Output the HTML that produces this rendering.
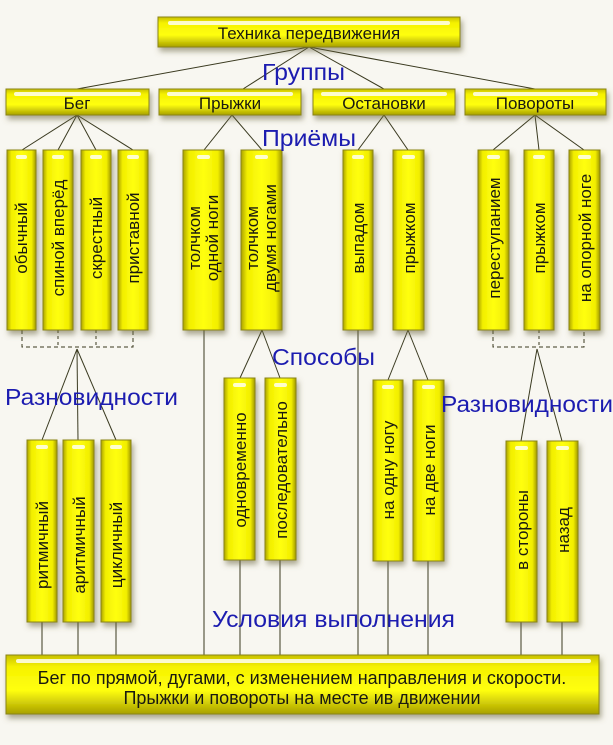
<!DOCTYPE html>
<html><head><meta charset="utf-8"><style>
html,body{margin:0;padding:0;background:#f8f7f1;}
svg{display:block;font-family:"Liberation Sans",sans-serif;}
</style></head><body>
<svg width="613" height="745" viewBox="0 0 613 745" xmlns="http://www.w3.org/2000/svg">
<defs>
<linearGradient id="gv" x1="0" y1="0" x2="1" y2="0">
<stop offset="0" stop-color="#aaa200"/><stop offset="0.15" stop-color="#f2ee00"/><stop offset="0.5" stop-color="#ffff10"/><stop offset="0.85" stop-color="#f2ee00"/><stop offset="1" stop-color="#a09800"/>
</linearGradient>
<linearGradient id="gh" x1="0" y1="0" x2="0" y2="1">
<stop offset="0" stop-color="#c8c000"/><stop offset="0.2" stop-color="#f6f200"/><stop offset="0.6" stop-color="#ffff10"/><stop offset="1" stop-color="#a8a000"/>
</linearGradient>
<filter id="sh" x="-30%" y="-30%" width="160%" height="160%"><feDropShadow dx="2" dy="4" stdDeviation="3" flood-color="#6a6440" flood-opacity="0.55"/></filter>
</defs>
<rect width="613" height="745" fill="#f8f7f1"/>
<g stroke="#3a3a20" stroke-width="1" fill="none">
<line x1="309" y1="47" x2="77" y2="89"/><line x1="309" y1="47" x2="243" y2="89"/><line x1="309" y1="47" x2="384" y2="89"/><line x1="309" y1="47" x2="535" y2="89"/>
<line x1="77" y1="115" x2="22" y2="150"/><line x1="77" y1="115" x2="58" y2="150"/><line x1="77" y1="115" x2="96" y2="150"/><line x1="77" y1="115" x2="133" y2="150"/>
<line x1="232" y1="115" x2="204" y2="150"/><line x1="232" y1="115" x2="262" y2="150"/>
<line x1="384" y1="115" x2="358" y2="150"/><line x1="384" y1="115" x2="408" y2="150"/>
<line x1="535" y1="115" x2="493" y2="150"/><line x1="535" y1="115" x2="539" y2="150"/><line x1="535" y1="115" x2="584" y2="150"/>
<polyline points="22,330 22,347 133,347 133,330" stroke-dasharray="4,3"/><line x1="58" y1="330" x2="58" y2="347" stroke-dasharray="3,3"/><line x1="96" y1="330" x2="96" y2="347" stroke-dasharray="3,3"/>
<line x1="77" y1="349" x2="42" y2="440"/><line x1="77" y1="349" x2="78" y2="440"/><line x1="77" y1="349" x2="116" y2="440"/>
<polyline points="493,330 493,347 584,347 584,330" stroke-dasharray="4,3"/><line x1="539" y1="330" x2="539" y2="347" stroke-dasharray="3,3"/>
<line x1="537" y1="349" x2="521" y2="441"/><line x1="537" y1="349" x2="562" y2="441"/>
<line x1="262" y1="330" x2="240" y2="378"/><line x1="262" y1="330" x2="280" y2="378"/>
<line x1="408" y1="330" x2="388" y2="380"/><line x1="408" y1="330" x2="428" y2="380"/>
<line x1="42" y1="622" x2="42" y2="655"/><line x1="78" y1="622" x2="78" y2="655"/><line x1="116" y1="622" x2="116" y2="655"/>
<line x1="204" y1="330" x2="204" y2="655"/><line x1="358" y1="330" x2="358" y2="655"/>
<line x1="240" y1="560" x2="240" y2="655"/><line x1="280" y1="560" x2="280" y2="655"/>
<line x1="388" y1="561" x2="388" y2="655"/><line x1="428" y1="561" x2="428" y2="655"/>
<line x1="521" y1="622" x2="521" y2="655"/><line x1="562" y1="622" x2="562" y2="655"/>
</g>
<g filter="url(#sh)" stroke="#8a8418" stroke-width="1">
<rect x="158" y="17" width="302" height="30" fill="url(#gh)"/>
<rect x="6" y="89" width="143" height="26" fill="url(#gh)"/>
<rect x="159" y="89" width="142" height="26" fill="url(#gh)"/>
<rect x="313" y="89" width="142" height="26" fill="url(#gh)"/>
<rect x="465" y="89" width="141" height="26" fill="url(#gh)"/>
<rect x="6" y="655" width="593" height="59" fill="url(#gh)"/>
<g fill="url(#gv)">
<rect x="7" y="150" width="29" height="180"/><rect x="43" y="150" width="30" height="180"/><rect x="81" y="150" width="30" height="180"/><rect x="118" y="150" width="30" height="180"/>
<rect x="183" y="150" width="41" height="180"/><rect x="241" y="150" width="41" height="180"/>
<rect x="343" y="150" width="30" height="180"/><rect x="393" y="150" width="31" height="180"/>
<rect x="478" y="150" width="31" height="180"/><rect x="524" y="150" width="30" height="180"/><rect x="569" y="150" width="31" height="180"/>
<rect x="27" y="440" width="30" height="182"/><rect x="63" y="440" width="31" height="182"/><rect x="101" y="440" width="30" height="182"/>
<rect x="224" y="378" width="31" height="182"/><rect x="265" y="378" width="31" height="182"/>
<rect x="373" y="380" width="30" height="181"/><rect x="413" y="380" width="31" height="181"/>
<rect x="506" y="441" width="31" height="181"/><rect x="547" y="441" width="31" height="181"/>
</g></g>
<g fill="#fffff0" opacity="0.85">
<rect x="168" y="21" width="282" height="4" rx="2"/>
<rect x="14" y="92" width="127" height="4" rx="2"/><rect x="167" y="92" width="126" height="4" rx="2"/><rect x="321" y="92" width="126" height="4" rx="2"/><rect x="473" y="92" width="125" height="4" rx="2"/>
<rect x="16" y="659" width="575" height="4" rx="2"/>
<rect x="16" y="155" width="11" height="4" rx="2"/><rect x="52" y="155" width="12" height="4" rx="2"/><rect x="90" y="155" width="12" height="4" rx="2"/><rect x="127" y="155" width="12" height="4" rx="2"/>
<rect x="197" y="155" width="13" height="4" rx="2"/><rect x="255" y="155" width="13" height="4" rx="2"/>
<rect x="352" y="155" width="12" height="4" rx="2"/><rect x="402" y="155" width="13" height="4" rx="2"/>
<rect x="487" y="155" width="13" height="4" rx="2"/><rect x="533" y="155" width="12" height="4" rx="2"/><rect x="578" y="155" width="13" height="4" rx="2"/>
<rect x="36" y="445" width="12" height="4" rx="2"/><rect x="72" y="445" width="13" height="4" rx="2"/><rect x="110" y="445" width="12" height="4" rx="2"/>
<rect x="233" y="383" width="13" height="4" rx="2"/><rect x="274" y="383" width="13" height="4" rx="2"/>
<rect x="382" y="385" width="12" height="4" rx="2"/><rect x="422" y="385" width="13" height="4" rx="2"/>
<rect x="515" y="446" width="13" height="4" rx="2"/><rect x="556" y="446" width="13" height="4" rx="2"/>
</g>
<g fill="#1a1a10" font-size="17" text-anchor="middle">
<text x="309" y="39">Техника передвижения</text>
<text x="77" y="109">Бег</text><text x="230" y="109">Прыжки</text><text x="384" y="109">Остановки</text><text x="535" y="109">Повороты</text>
</g>
<g fill="#1a1a10" font-size="18" text-anchor="middle">
<text x="302" y="684">Бег по прямой, дугами, с изменением направления и скорости.</text>
<text x="302" y="704">Прыжки и повороты на месте ив движении</text>
</g>
<g fill="#1a1a10" font-size="17" text-anchor="middle">
<text transform="translate(27,238) rotate(-90)">обычный</text>
<text transform="translate(64,238) rotate(-90)">спиной вперёд</text>
<text transform="translate(102,238) rotate(-90)">скрестный</text>
<text transform="translate(139,238) rotate(-90)">приставной</text>
<text transform="translate(200,238) rotate(-90)">толчком</text><text transform="translate(218,238) rotate(-90)">одной ноги</text>
<text transform="translate(258,238) rotate(-90)">толчком</text><text transform="translate(276,238) rotate(-90)">двумя ногами</text>
<text transform="translate(364,238) rotate(-90)">выпадом</text>
<text transform="translate(415,238) rotate(-90)">прыжком</text>
<text transform="translate(500,238) rotate(-90)">переступанием</text>
<text transform="translate(545,238) rotate(-90)">прыжком</text>
<text transform="translate(591,238) rotate(-90)">на опорной ноге</text>
<text transform="translate(48,545) rotate(-90)">ритмичный</text>
<text transform="translate(85,545) rotate(-90)">аритмичный</text>
<text transform="translate(122,545) rotate(-90)">цикличный</text>
<text transform="translate(246,470) rotate(-90)">одновременно</text>
<text transform="translate(287,470) rotate(-90)">последовательно</text>
<text transform="translate(394,470) rotate(-90)">на одну ногу</text>
<text transform="translate(435,470) rotate(-90)">на две ноги</text>
<text transform="translate(528,530) rotate(-90)">в стороны</text>
<text transform="translate(569,530) rotate(-90)">назад</text>
</g>
<g fill="#1c1cb0" font-size="23">
<text x="262" y="80" textLength="83" lengthAdjust="spacingAndGlyphs">Группы</text>
<text x="262" y="146" textLength="94" lengthAdjust="spacingAndGlyphs">Приёмы</text>
<text x="272" y="365" textLength="103" lengthAdjust="spacingAndGlyphs">Способы</text>
<text x="5" y="405" textLength="173" lengthAdjust="spacingAndGlyphs">Разновидности</text>
<text x="441" y="412" textLength="172" lengthAdjust="spacingAndGlyphs">Разновидности</text>
<text x="212" y="627" textLength="243" lengthAdjust="spacingAndGlyphs">Условия выполнения</text>
</g>
</svg>
</body></html>
